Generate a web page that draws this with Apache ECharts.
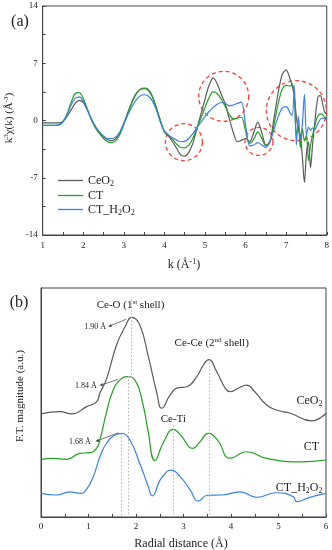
<!DOCTYPE html>
<html><head><meta charset="utf-8">
<script src="https://cdn.jsdelivr.net/npm/echarts@6/dist/echarts.min.js"></script>
<style>html,body{margin:0;padding:0;background:#fff}#c{width:332px;height:550px}</style>
</head><body><div id="c"></div>
<script>
// ---------- Panel (a): k^3 chi(k) ----------
const kValues = [1.0,1.1,1.2,1.3,1.4,1.5,1.6,1.7,1.8,1.9,2.0,2.1,2.2,2.3,2.4,2.5,2.6,2.7,2.8,2.9,3.0,3.1,3.2,3.3,3.4,3.5,3.6,3.7,3.8,3.9,4.0,4.1,4.2,4.3,4.4,4.5,4.6,4.7,4.8,4.9,5.0,5.1,5.2,5.3,5.4,5.5,5.6,5.7,5.8,5.9,6.0,6.1,6.2,6.3,6.4,6.5,6.6,6.7,6.8,6.9,7.0,7.1,7.15,7.2,7.25,7.3,7.35,7.4,7.45,7.5,7.55,7.6,7.65,7.7,7.75,7.8,7.85,7.9,7.95,8.0];
const chiCeO2 = [-0.3,-0.3,-0.3,-0.3,-0.3,-0.1,0.5,1.3,2.1,2.45,2.2,1.3,0.1,-0.8,-1.5,-2.0,-2.35,-2.45,-2.2,-1.5,-0.3,1.0,2.3,3.3,3.8,3.95,3.8,3.0,1.6,0.0,-1.4,-1.9,-2.6,-3.4,-4.2,-4.35,-3.9,-2.8,-1.0,0.8,2.6,4.3,5.2,4.5,3.2,2.0,0.2,-1.5,-2.6,-2.4,-2.2,-2.6,-1.5,-0.2,-1.5,-3.0,-2.6,0.3,3.3,5.6,6.2,5.0,4.2,3.0,0.5,-1.2,-1.8,-4.5,-7.6,-4.0,-2.6,-5.8,-3.0,-0.5,1.8,3.0,3.0,2.0,1.0,0.8];
const chiCT = [-0.6,-0.6,-0.6,-0.6,-0.55,-0.2,0.8,2.2,3.3,3.4,2.7,1.4,0.1,-0.9,-1.6,-2.2,-2.6,-2.7,-2.5,-1.7,-0.5,0.9,2.2,3.2,3.8,3.9,3.7,2.9,1.5,0.0,-1.3,-1.8,-2.3,-2.9,-3.3,-3.35,-3.0,-2.2,-0.9,0.3,1.6,2.8,3.5,3.3,2.6,1.7,0.7,0.2,0.3,0.4,-1.3,-2.8,-2.3,-1.4,-2.2,-3.1,-2.6,-0.5,2.0,3.8,4.3,4.2,4.5,3.0,-2.0,-0.5,-3.3,-1.0,-2.5,-1.8,-4.9,-3.0,-1.8,-0.8,0.2,0.7,0.8,0.7,0.4,0.3];
const chiCTH2O2 = [-0.6,-0.6,-0.6,-0.6,-0.5,-0.1,0.7,1.9,2.7,2.9,2.4,1.3,0.2,-0.7,-1.4,-1.9,-2.2,-2.2,-2.0,-1.4,-0.4,0.7,1.7,2.5,3.0,3.15,3.0,2.4,1.3,-0.2,-1.3,-1.8,-2.1,-2.4,-2.6,-2.55,-2.2,-1.6,-0.9,-0.2,0.5,1.1,1.6,2.0,2.2,2.1,1.8,1.9,2.1,2.25,-0.6,-3.1,-3.0,-2.7,-3.0,-3.3,-2.6,-1.1,0.4,1.5,1.7,0.9,0.6,4.3,-3.0,0.5,-2.4,-0.3,3.2,-1.8,-0.8,-1.2,-0.9,-1.2,-0.7,-0.2,0.2,0.3,0.2,0.1];
// dashed highlight circles: [k, chi, radius(px)]
const circlesA = [[4.48,-2.65,18.5],[5.46,2.96,25],[6.33,-2.56,14],[7.25,1.2,30]];

// ---------- Panel (b): FT magnitude (arbitrary units, offset curves) ----------
const rCeO2 = [0,0.4,0.65,0.96,1.17,1.24,1.38,1.59,1.77,1.91,2.08,2.26,2.44,2.54,2.72,2.86,3.07,3.28,3.42,3.53,3.7,3.88,3.98,4.15,4.33,4.5,4.75,4.96,5.25,5.7,6.0];
const ftCeO2 = [45,46,45,48.2,50.3,54.1,60.3,75.1,83.1,87.2,83.8,70,54,47.5,53.3,56.3,56.9,61.3,66.4,68.7,63.4,56.2,54.7,56.2,57.6,54.7,48.9,46.7,45.3,42,45.3];
const rCT = [0,0.26,0.54,0.82,1.03,1.17,1.24,1.39,1.52,1.66,1.8,1.98,2.15,2.25,2.4,2.57,2.79,2.93,3.2,3.35,3.52,3.72,3.98,4.33,4.75,5.45,6.0];
const ftCT = [25.2,25.6,25.2,27.8,28.1,30,33.6,46.7,55.5,59.8,61.3,59.8,48.9,38,24.6,32.2,38.3,36,30,32.9,36.5,33.5,25.6,28.5,25.6,24.1,24.9];
const rCTH2O2 = [0,0.33,0.61,0.82,0.95,1.1,1.24,1.38,1.56,1.7,1.87,2.08,2.26,2.34,2.51,2.65,2.74,2.93,3.14,3.31,3.5,3.8,4.19,4.54,4.96,5.31,5.38,5.66,6.0];
const ftCTH2O2 = [10.3,9.6,11,10.3,11.8,17.6,26.3,32.2,35.8,36.5,33.6,23.4,13.2,9.2,16.2,19.8,20.5,17.6,11.8,6.9,9.5,9.6,11,8.6,10.6,8.9,6.7,8.6,10.3];
// dotted guide lines: [r, yFrom, yTo]
const guideLines = [[1.90,95,61.5],[1.83,61.5,0],[1.68,36.5,0],[2.78,40,0],[3.55,67.5,0]];

const FONT = 'Liberation Serif';
const TXT = '#222';
const C_GRAY = '#5a5a5a', C_GREEN = '#22a022', C_BLUE = '#3b82e6';

const zip = (xs, ys) => xs.map((x, i) => [x, ys[i]]);
const richF = (size) => ({
  n: {fontFamily: FONT, fontSize: size, color: TXT, lineHeight: size + 2},
  sub: {fontFamily: FONT, fontSize: Math.round(size * 0.68), color: TXT, lineHeight: size*0.7, verticalAlign: 'bottom'},
  sup: {fontFamily: FONT, fontSize: Math.round(size * 0.68), color: TXT, lineHeight: size*0.7, verticalAlign: 'top'}
});
const legendNames = {
  'CeO2': '{n|CeO}{sub|2}',
  'CT': '{n|CT}',
  'CT_H2O2': '{n|CT_H}{sub|2}{n|O}{sub|2}'
};

const axisCommon = {
  type: 'value',
  axisLine: {show: true, onZero: false, lineStyle: {color: '#444', width: 1}},
  axisTick: {show: true, inside: true, length: 3, lineStyle: {color: '#444'}},
  minorTick: {show: true, splitNumber: 2, length: 3, lineStyle: {color: '#444'}},
  splitLine: {show: false},
  minorSplitLine: {show: false},
  axisLabel: {fontFamily: FONT, fontSize: 9, color: TXT}
};

const lineSeries = (name, data, color, xi, smooth) => ({
  type: 'line', name, data, xAxisIndex: xi, yAxisIndex: xi,
  symbol: 'none', smooth, lineStyle: {color, width: 1.2}, itemStyle: {color},
  emphasis: {disabled: true}, animation: false, z: 3
});

const chart = echarts.init(document.getElementById('c'), null, {renderer: 'canvas'});
const option = {
  animation: false,
  backgroundColor: '#fff',
  grid: [
    {left: 42.7, top: 6, width: 284.3, height: 229, show: true, borderColor: '#444', borderWidth: 1},
    {left: 41, top: 288, width: 285, height: 229, show: true, borderColor: '#444', borderWidth: 1}
  ],
  xAxis: [
    Object.assign({}, axisCommon, {gridIndex: 0, min: 1, max: 8, interval: 1,
      axisLabel: Object.assign({}, axisCommon.axisLabel, {margin: 6})}),
    Object.assign({}, axisCommon, {gridIndex: 1, min: 0, max: 6, interval: 1,
      axisLabel: Object.assign({}, axisCommon.axisLabel, {margin: 5})})
  ],
  yAxis: [
    Object.assign({}, axisCommon, {gridIndex: 0, min: -14, max: 14, interval: 7,
      axisLabel: Object.assign({}, axisCommon.axisLabel, {margin: 5})}),
    Object.assign({}, axisCommon, {gridIndex: 1, min: 0, max: 100,
      axisTick: {show: false}, minorTick: {show: false}, axisLabel: {show: false}})
  ],
  legend: {
    data: ['CeO2', 'CT', 'CT_H2O2'],
    left: 58, top: 174.5, orient: 'vertical', padding: 0,
    icon: 'rect', itemWidth: 25, itemHeight: 1.3, itemGap: 2,
    selectedMode: false,
    formatter: (name) => legendNames[name],
    textStyle: {fontFamily: FONT, fontSize: 12, color: TXT, padding: [0, 0, 0, 0], rich: richF(12)}
  },
  series: [
    lineSeries('CeO2', zip(kValues, chiCeO2), C_GRAY, 0, 0.3),
    lineSeries('CT', zip(kValues, chiCT), C_GREEN, 0, 0.3),
    lineSeries('CT_H2O2', zip(kValues, chiCTH2O2), C_BLUE, 0, 0.3),
    Object.assign(lineSeries('CeO2 FT', zip(rCeO2, ftCeO2), C_GRAY, 1, 0.5), {
      markLine: {
        silent: true, symbol: ['none', 'none'], label: {show: false}, animation: false,
        lineStyle: {color: '#b5b5b5', type: [1.5, 2], width: 1},
        data: guideLines.map(([r, a, b]) => [{coord: [r, a]}, {coord: [r, b]}])
      }
    }),
    lineSeries('CT FT', zip(rCT, ftCT), C_GREEN, 1, 0.5),
    lineSeries('CT_H2O2 FT', zip(rCTH2O2, ftCTH2O2), C_BLUE, 1, 0.5)
  ]
};
chart.setOption(option);

// ---------- annotations ----------
function arrow(x1, y1, x2, y2) {
  const ang = Math.atan2(y2 - y1, x2 - x1), L = 3.5, W = 1.5;
  const bx = x2 - L * Math.cos(ang), by = y2 - L * Math.sin(ang);
  const px = -Math.sin(ang) * W, py = Math.cos(ang) * W;
  return [
    {type: 'line', shape: {x1, y1, x2: bx, y2: by}, style: {stroke: '#555', lineWidth: 0.8}, z: 5},
    {type: 'polygon', shape: {points: [[x2, y2], [bx + px, by + py], [bx - px, by - py]]}, style: {fill: '#333'}, z: 5}
  ];
}
function txt(x, y, text, size, align, extra) {
  return Object.assign({
    type: 'text', x, y, z: 6,
    style: {text, x: 0, y: 0, align: align || 'center', verticalAlign: 'middle',
      fontFamily: FONT, fontSize: size, fill: TXT, rich: richF(size)}
  }, extra || {});
}
const g = [];
circlesA.forEach(([k, v, r]) => {
  const p = chart.convertToPixel({xAxisIndex: 0, yAxisIndex: 0}, [k, v]);
  g.push({type: 'circle', shape: {cx: p[0], cy: p[1], r}, z: 1,
    style: {fill: 'none', stroke: '#ff3b3b', lineWidth: 1.3, lineDash: [4, 3]}});
});
// panel labels and axis names
g.push(txt(20, 22, '(a)', 16));
g.push(txt(19, 303, '(b)', 16));
g.push(txt(9, 118, '{n|k}{sup|3}{n|χ(k) (Å}{sup|-3}{n|)}', 11, 'center', {rotation: Math.PI / 2}));
g.push(txt(184, 265, '{n|k (Å}{sup|-1}{n|)}', 12));
g.push(txt(20, 396, '{n|F.T. magnitude (a.u.)}', 11, 'center', {rotation: Math.PI / 2}));
g.push(txt(181, 544, '{n|Radial distance (Å)}', 12));
// panel (b) annotations
g.push(txt(130.5, 305, '{n|Ce-O (1}{sup|st}{n| shell)}', 11));
g.push(txt(211.7, 343, '{n|Ce-Ce (2}{sup|nd}{n| shell)}', 11));
g.push(txt(173.3, 419.5, '{n|Ce-Ti}', 11));
g.push(txt(322.5, 400.5, '{n|CeO}{sub|2}', 12, 'right'));
g.push(txt(319, 446.5, '{n|CT}', 12, 'right'));
g.push(txt(322.5, 488, '{n|CT_H}{sub|2}{n|O}{sub|2}', 12, 'right'));
g.push(txt(106, 327.3, '{n|1.90 Å}', 8, 'right'));
g.push(txt(96.7, 386, '{n|1.84 Å}', 8, 'right'));
g.push(txt(90.7, 442.3, '{n|1.68 Å}', 8, 'right'));
g.push(...arrow(126, 319.3, 108.2, 326.7));
g.push(...arrow(118.3, 379.3, 99.5, 385.5));
g.push(...arrow(118.3, 432.7, 95.5, 441.5));
chart.setOption({graphic: {elements: g}});
</script>
</body></html>
